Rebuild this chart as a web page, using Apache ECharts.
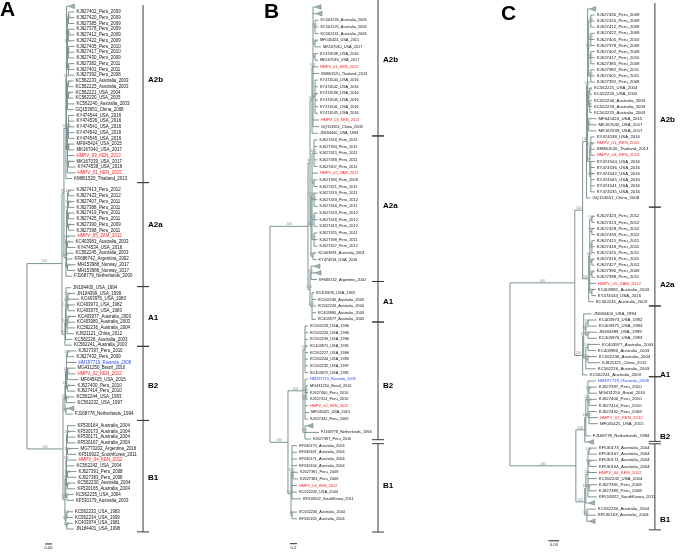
<!DOCTYPE html>
<html><head><meta charset="utf-8">
<script src="https://cdn.jsdelivr.net/npm/echarts@6/dist/echarts.min.js"></script>
<style>html,body{margin:0;padding:0;background:#fff}#c{width:685px;height:552px}</style>
</head><body><div id="c"></div>
<script>
// ---------------- DATA ----------------
// Leaf rows (top to bottom). '' = empty row, '#' = collapsed clade (triangle)
const rowsA = ['#',
 'KJ627402_Peru_2009','KJ627420_Peru_2009','KJ627385_Peru_2009','KJ627378_Peru_2009','KJ627412_Peru_2009','KJ627422_Peru_2009',
 'KJ627405_Peru_2010','KJ627417_Peru_2010','KJ627430_Peru_2009','KJ627382_Peru_2011','KJ627401_Peru_2011','KJ627392_Peru_2008',
 'KC562233_Australia_2003','KC562225_Australia_2003','KC562221_USA_2004','KC562220_USA_2005','KC562240_Australia_2003','GQ153651_China_2008',
 'KY474544_USA_2016','KY474536_USA_2016','KY474541_USA_2016','KY474542_USA_2016','KY474545_USA_2016','MF045424_USA_2015',
 'MK167040_USA_2017','HMPV_03_KEN_2013','MK167039_USA_2017','KY474538_USA_2016','HMPV_01_KEN_2015','KM861520_Thailand_2013',
 '',
 'KJ627413_Peru_2012','KJ627423_Peru_2012','KJ627407_Peru_2011','KJ627388_Peru_2011','KJ627419_Peru_2011','KJ627425_Peru_2011',
 'KJ627390_Peru_2009','KJ627398_Peru_2011','HMPV_05_ZAM_2012','KC403981_Australia_2003','KY474534_USA_2016','KC562245_Australia_2003',
 'KF686742_Argentina_2002','MH153988_Norway_2017','MH153986_Norway_2017','FJ168779_Netherlands_2000',
 '',
 'JN184400_USA_1994','JN184399_USA_1999','KC403976_USA_1983','KC403973_USA_1982','KC403975_USA_1983','KC403977_Australia_2003',
 'KC403980_Australia_2003','KC562236_Australia_2004','KJ821121_China_2012','KC562226_Australia_2003','KC562241_Australia_2003',
 'KJ627397_Peru_2010','KJ627432_Peru_2009','HM197719_Rwanda_2008','MG431250_Brazil_2010','HMPV_02_KEN_2012','MF045425_USA_2015',
 'KJ627400_Peru_2010','KJ627414_Peru_2010','KC562244_USA_1983','KC562232_USA_1997','#','FJ168778_Netherlands_1994',
 '',
 'KF530164_Australia_2004','KF530173_Australia_2004','KF530171_Australia_2004','KF530167_Australia_2004','MG773202_Argentina_2016',
 'KF516922_SouthKorea_2011','HMPV_04_KEN_2012','KC562242_USA_2004','KJ627391_Peru_2008','KJ627383_Peru_2008',
 'KC562230_Australia_2004','KF530165_Australia_2004','KC562235_USA_2004','KF530179_Australia_2003',
 '',
 'KC562233_USA_1983','KC562234_USA_1999','KC403974_USA_1981','JN184401_USA_1998'];

const rowsB = ['#','#',
 'KC562233_Australia_2003','KC562225_Australia_2003','KC562241_Australia_2003','MF045424_USA_2015','MK167040_USA_2017',
 'KY474538_USA_2016','MK167039_USA_2017','HMPV_01_KEN_2015','KM861520_Thailand_2013','KY474544_USA_2016','KY474542_USA_2016',
 'KY474536_USA_2016','KY474545_USA_2016','KY474541_USA_2016','KY474535_USA_2016','HMPV_03_KEN_2013','GQ153651_China_2008',
 'JN184400_USA_1994',
 'KJ627418_Peru_2011','KJ627394_Peru_2011','KJ627415_Peru_2011','KJ627388_Peru_2011','KJ627407_Peru_2011','HMPV_05_ZAM_2012',
 'KJ627390_Peru_2009','KJ627421_Peru_2011','KJ627419_Peru_2011','KJ627433_Peru_2012','KJ627416_Peru_2011','KJ627423_Peru_2012',
 'KJ627428_Peru_2012','KJ627413_Peru_2012','KJ627425_Peru_2011','KJ627398_Peru_2011','KJ627427_Peru_2012',
 'KC403981_Australia_2003','KY474534_USA_2016','#','#','KF686742_Argentina_2002','',
 'KC403976_USA_1983','KC562236_Australia_2003','KC562226_Australia_2004','KC403980_Australia_2003','KC403977_Australia_2003',
 'KC562228_USA_1996','KC562229_USA_1996','KC562239_USA_1996','KC403971_USA_1991','KC562227_USA_1996','KC562244_USA_1983',
 'KC562232_USA_1997','KC403972_USA_1981','HM197719_Rwanda_2008','MG431250_Brazil_2010','KJ627400_Peru_2010','KJ627414_Peru_2010',
 'HMPV_02_KEN_2012','MF045425_USA_2015','KJ627432_Peru_2009','#','FJ168778_Netherlands_1994','KJ627397_Peru_2010',
 'KF530173_Australia_2004','KF530167_Australia_2004','KF530171_Australia_2004','KF530164_Australia_2004','KJ627391_Peru_2008',
 'KJ627383_Peru_2008','HMPV_04_KEN_2012','KC562242_USA_2004','KF516922_SouthKorea_2011','',
 'KC562230_Australia_2004','KF530163_Australia_2004'];

const rowsC = ['#',
 'KJ627430_Peru_2009','KJ627420_Peru_2009','KJ627412_Peru_2009','KJ627422_Peru_2009','KJ627405_Peru_2010','KJ627378_Peru_2009',
 'KJ627402_Peru_2009','KJ627417_Peru_2010','KJ627385_Peru_2009','KJ627382_Peru_2011','KJ627401_Peru_2011','KJ627392_Peru_2008',
 'KC562221_USA_2004','KC562220_USA_2005','KC562240_Australia_2003','KC562233_Australia_2003','KC562225_Australia_2003',
 'MF045424_USA_2015','MK167040_USA_2017','MK167039_USA_2017','KY474538_USA_2016','HMPV_01_KEN_2015','KM861520_Thailand_2013',
 'HMPV_03_KEN_2013','KY474544_USA_2016','KY474536_USA_2016','KY474542_USA_2016','KY474545_USA_2016','KY474541_USA_2016',
 'KY474535_USA_2016','GQ153651_China_2008','','',
 'KJ627423_Peru_2012','KJ627413_Peru_2012','KJ627428_Peru_2012','KJ627433_Peru_2012','KJ627415_Peru_2011','KJ627418_Peru_2011',
 'KJ627425_Peru_2011','KJ627416_Peru_2011','KJ627427_Peru_2012','KJ627390_Peru_2009','KJ627398_Peru_2011','HMPV_05_ZAM_2012',
 'KC403981_Australia_2003','KY474534_USA_2016','KC562245_Australia_2003','',
 'JN184400_USA_1994','KC403973_USA_1982','KC403975_USA_1983','JN184399_USA_1999','KC403976_USA_1983','KC403977_Australia_2003',
 'KC403980_Australia_2003','KC562236_Australia_2004','KJ821121_China_2012','KC562226_Australia_2003','KC562241_Australia_2003',
 'HM197719_Rwanda_2008','KJ627397_Peru_2010','MG431250_Brazil_2010','KJ627400_Peru_2010','KJ627414_Peru_2010','KJ627432_Peru_2009',
 'HMPV_02_KEN_2012','MF045425_USA_2015','','FJ168778_Netherlands_1994','#',
 'KF530173_Australia_2004','KF530167_Australia_2004','KF530171_Australia_2004','KF530164_Australia_2004','HMPV_04_KEN_2012',
 'KC562242_USA_2004','KJ627391_Peru_2008','KJ627383_Peru_2008','KF516922_SouthKorea_2011','#',
 'KC562230_Australia_2004','KF530163_Australia_2004','#'];

// Tree topology + branch lengths (substitutions/site), Newick, leaves in row order
const treeA_A2b = '((#:0.014,((*:0.043,*:0.043,*:0.043)100:0.007,(*:0.043,*:0.043,*:0.043)100:0.007,(*:0.043,*:0.043,*:0.043)99:0.007,(*:0.043,*:0.043,*:0.043)100:0.007)100:0.007,((*:0.036,*:0.036)100:0.007,(*:0.036,*:0.036)100:0.007,*:0.05,*:0.043)96:0.007,((*:0.043,*:0.043,*:0.043,*:0.043,*:0.043)100:0.007,(*:0.043,*:0.043)99:0.007,*:0.05,(*:0.043,*:0.05)100:0.007,*:0.057)100:0.007)100:0.004,*:0.043)100:0.014';
const treeA_A2a = '((((*:0.043,*:0.043)100:0.007,(*:0.043,*:0.043)100:0.007,(*:0.043,*:0.043)97:0.007,(*:0.043,*:0.043)100:0.007)99:0.007,*:0.064,(*:0.043,*:0.057)100:0.007,*:0.05,*:0.043,(*:0.057,*:0.057)100:0.007)100:0.004,*:0.043)100:0.014';
const treeA_A1 = '(((*:0.036,((*:0.05,*:0.079)100:0.007,(*:0.05,*:0.05)98:0.007)100:0.007,((*:0.057,*:0.05)100:0.007,*:0.057,*:0.05)100:0.007)100:0.004,*:0.05)100:0.004,*:0.05)100:0.021';
const treeA_B2 = '((((*:0.064,*:0.05)100:0.007,*:0.071,(*:0.057,*:0.057,*:0.079)100:0.007,(*:0.057,*:0.057)100:0.007)100:0.007,(*:0.057,*:0.064)100:0.007)100:0.004,(#:0.014,*:0.05)100:0.007)100:0.014';
const treeA_B1 = '((((*:0.057,*:0.057,*:0.057,*:0.057)100:0.007,(*:0.079,*:0.064)100:0.007,*:0.071,*:0.057,(*:0.064,*:0.064)100:0.007,(*:0.057,*:0.057)100:0.007)100:0.004,(*:0.05,*:0.05)99:0.007)99:0.007,((*:0.043,*:0.043)100:0.007,(*:0.043,*:0.05)100:0.007)100:0.007)100:0.014';
const treeA = `(((${treeA_A2b},${treeA_A2a})96:0.014,${treeA_A1})100:0.25,(${treeA_B2},${treeA_B1})100:0.257)`;

const treeB_A2b = '((#:0.057,#:0.086,(*:0.1,*:0.1,*:0.1)100:0.057,(*:0.086,*:0.171)100:0.057,(*:0.086,*:0.086)99:0.057,*:0.143,*:0.171,(*:0.086,*:0.086,*:0.086,*:0.086,*:0.086,*:0.086)100:0.057,*:0.171,*:0.171)100:0.029,*:0.171)100:0.057';
const treeB_A2a = '(((*:0.1,*:0.1,*:0.1,*:0.1,*:0.1)100:0.057,*:0.171,(*:0.1,*:0.1)90:0.057,(*:0.1,*:0.1,*:0.1)100:0.057,(*:0.1,*:0.1,*:0.1)100:0.057,(*:0.1,*:0.1,*:0.1)100:0.057)100:0.029,(*:0.1,*:0.1)100:0.057)100:0.029';
const treeB_A1 = '((#:0.086,#:0.114,*:0.171)100:0.029,(*:0.057,*:0.114,*:0.114,*:0.114,*:0.114)100:0.057)100:0.057';
const treeB_B2 = '((*:0.086,*:0.086,*:0.086,*:0.086,*:0.086,*:0.086,*:0.086,*:0.086)100:0.057,(*:0.086,(*:0.057,*:0.057,*:0.057)100:0.029,*:0.086,*:0.114,*:0.086)100:0.057,(#:0.057,*:0.4,*:0.171)100:0.057)100:0.429';
const treeB_B1 = '((*:0.143,*:0.143,*:0.143,*:0.143,(*:0.143,*:0.143)99:0.029,*:0.143,*:0.143,*:0.257)100:0.029,(*:0.143,*:0.143)91:0.029)100:0.086';
const treeB = `(((${treeB_A2b},${treeB_A2a})97:0.057,${treeB_A1})100:1.086,(${treeB_B2},${treeB_B1})100:0.514)`;

const treeC_A2b = '((#:0.006,((*:0.011,*:0.011,*:0.011)100:0.006,(*:0.011,*:0.011,*:0.011)100:0.006,(*:0.011,*:0.011,*:0.011)98:0.006,(*:0.011,*:0.011,*:0.011)100:0.006)100:0.003,((*:0.006,*:0.006)100:0.003,(*:0.006,*:0.006,*:0.006)100:0.003)100:0.003,(*:0.022,*:0.022,*:0.022)100:0.003,((*:0.011,*:0.011,*:0.011,*:0.011)100:0.003,(*:0.011,*:0.011,*:0.011,*:0.011,*:0.011,*:0.011)100:0.003)100:0.006)100:0.003,*:0.011)100:0.011';
const treeC_A2a = '(((*:0.008,*:0.008)100:0.006,(*:0.008,*:0.008)100:0.006,(*:0.008,*:0.008,*:0.008)99:0.006,(*:0.008,*:0.008)100:0.006,(*:0.008,*:0.008)100:0.006,*:0.017,(*:0.011,*:0.011)100:0.006)100:0.003,*:0.014)100:0.017';
const treeC_A1 = '((*:0.022,((*:0.025,*:0.025)100:0.006,(*:0.025,*:0.025)100:0.006)100:0.006,((*:0.034,*:0.022)100:0.006,(*:0.025,*:0.034)100:0.006,*:0.028)100:0.006)100:0.003,*:0.014)100:0.022';
const treeC_B2 = '(((*:0.022,(*:0.022,*:0.022)100:0.003,(*:0.022,*:0.022)100:0.003,(*:0.022,*:0.025,*:0.025)100:0.003)100:0.006,*:0.014)100:0.003,#:0.008)100:0.025';
const treeC_B1 = '((((*:0.022,*:0.022)100:0.003,(*:0.022,*:0.022)100:0.003,*:0.025,*:0.025,(*:0.022,*:0.022)100:0.003,*:0.025)100:0.006,#:0.008)100:0.003,(*:0.025,*:0.025,#:0.006)100:0.006)100:0.025';
const treeC = `(((${treeC_A2b},${treeC_A2a})100:0.022,${treeC_A1})100:0.182,(${treeC_B2},${treeC_B1})100:0.185)`;

// Genotype brackets: [name, first row edge, last row edge, label row]
const cladesA = [['A2b',-0.2,30.7,12.8],['A2a',30.7,48.8,38],['A1',48.8,59.2,54.2],['B2',59.2,72.1,66],['B1',72.1,91.5,82]];
const cladesB = [['A2b',-1.05,19.4,8],['A2a',19.4,41.3,29.9],['A1',41.3,47.4,44.4],['B2',47.4,65.1,57],['B1',65.7,79,72]];
const cladesC = [['A2b',-0.97,32.5,18.2],['A2a',32.5,48.7,45.3],['A1',48.7,60.3,60],['B2',60.3,70.9,70.2],['B1',71.3,85.4,83.8]];

// Scale bars (substitutions/site)
const scaleBars = ['0.05','0.2','0.03'];
const panelLetters = ['A','B','C'];
const blueStrains = ['HM197719_Rwanda_2008'];

// ---------------- HELPERS ----------------
const FONT = '"Liberation Sans", Arial, Helvetica, sans-serif';
const LINE = '#6c8888';
function parseNewick(s){
  s = s.replace(/\s+/g,''); let i = 0;
  function node(){
    const n = {children:[], name:'', label:'', len:0};
    if (s[i] === '('){
      i++; n.children.push(node());
      while (s[i] === ','){ i++; n.children.push(node()); }
      i++;
      let lab=''; while(i<s.length && !':,();'.includes(s[i])) lab += s[i++];
      n.label = lab;
    } else {
      let nm=''; while(i<s.length && !':,();'.includes(s[i])) nm += s[i++];
      n.name = nm;
    }
    if (s[i] === ':'){ i++; let num=''; while(i<s.length && /[0-9.eE+-]/.test(s[i])) num += s[i++]; n.len = parseFloat(num); }
    return n;
  }
  return node();
}
function layoutTree(nw, rows){
  const root = parseNewick(nw);
  const leafRows = []; rows.forEach((r,i)=>{ if (r !== '') leafRows.push(i); });
  let k = 0; const segs=[], leaves=[], boots=[];
  (function walk(n, x, px){
    n.x = x;
    if (!n.children.length){
      const r = leafRows[k++]; n.y = r; leaves.push({x, y:r, label: rows[r]});
    } else {
      n.children.forEach(c => walk(c, x + c.len, x));
      const f = n.children[0], l = n.children[n.children.length-1];
      n.y = (f.y + l.y)/2;
      segs.push([x, f.y, x, l.y]);
      n.children.forEach(c => segs.push([x, c.y, c.x, c.y]));
    }
    if (n.label && px !== null) boots.push([(px + x)/2, n.y, n.label]);
  })(root, 0, null);
  if (k !== leafRows.length) console.error('leaf mismatch', k, leafRows.length);
  return {segs, leaves, boots};
}

// ---------------- PANELS (layout) ----------------
const panels = [
  {tree: treeA, rows: rowsA, clades: cladesA, grid:{left:27, top:6.245, width:140, height:546.7}, xMax:1, yMax:95,
   fs:4.45, bracketX:0.829, scale:{value:0.05, x:0.129, row:93.6}, letter:{left:0, top:0}},
  {tree: treeB, rows: rowsB, clades: cladesB, grid:{left:270, top:7.0, width:140, height:545.3}, xMax:4, yMax:82,
   fs:3.85, bracketX:3.086, scale:{value:0.2, x:0.571, row:80.75}, letter:{left:264, top:2}},
  {tree: treeC, rows: rowsC, clades: cladesC, grid:{left:510, top:8.9, width:142.4, height:542.9}, xMax:0.4, yMax:89,
   fs:4.3, bracketX:0.407, scale:{value:0.03, x:0.108, row:87.2}, letter:{left:501, top:4}}
];

const series = [];
panels.forEach((p, pi) => {
  const L = layoutTree(p.tree, p.rows);
  const common = {type:'custom', coordinateSystem:'cartesian2d', xAxisIndex:pi, yAxisIndex:pi, clip:false, silent:true, animation:false};
  // branches
  series.push(Object.assign({}, common, {
    data: L.segs,
    encode:{x:[0,2], y:[1,3]},
    renderItem(params, api){
      const a = api.coord([api.value(0), api.value(1)]), b = api.coord([api.value(2), api.value(3)]);
      return {type:'line', shape:{x1:a[0], y1:a[1], x2:b[0], y2:b[1]}, style:{stroke:LINE, lineWidth:0.9}};
    }
  }));
  // leaves: labels or collapsed triangles
  const lv = L.leaves;
  series.push(Object.assign({}, common, {
    data: lv.map(d => [d.x, d.y]),
    encode:{x:0, y:1},
    renderItem(params, api){
      const d = lv[params.dataIndex];
      const c = api.coord([api.value(0), api.value(1)]);
      if (d.label === '#'){
        return {type:'polygon', shape:{points:[[c[0], c[1]], [c[0]+6, c[1]-2.3], [c[0]+6, c[1]+2.3]]},
          style:{fill:'#9fb1b1', stroke:LINE, lineWidth:0.6}};
      }
      const col = d.label.startsWith('HMPV_') ? '#ff1a1a' : (blueStrains.includes(d.label) ? '#2a4dff' : '#111');
      return {type:'text', x:c[0]+2, y:c[1], style:{text:d.label, fill:col, fontSize:p.fs, fontFamily:FONT,
        align:'left', verticalAlign:'middle', textAlign:'left', textVerticalAlign:'middle'}};
    }
  }));
  // bootstrap values
  const bs = L.boots;
  series.push(Object.assign({}, common, {
    data: bs.map(d => [d[0], d[1]]),
    encode:{x:0, y:1},
    renderItem(params, api){
      const c = api.coord([api.value(0), api.value(1)]);
      return {type:'text', x:c[0], y:c[1]-0.6, style:{text:bs[params.dataIndex][2], fill:'#8a8a8a', fontSize:3.3, fontFamily:FONT,
        align:'center', verticalAlign:'bottom', textAlign:'center', textVerticalAlign:'bottom'}};
    }
  }));
  // genotype brackets
  const cl = p.clades;
  series.push(Object.assign({}, common, {
    data: cl.map(d => [p.bracketX, d[1], d[2], d[3]]),
    encode:{x:0, y:[1,2]},
    renderItem(params, api){
      const a = api.coord([api.value(0), api.value(1)]), b = api.coord([api.value(0), api.value(2)]);
      const m = api.coord([api.value(0), api.value(3)]);
      const st = {stroke:'#3c3c3c', lineWidth:1};
      const kids = [
        {type:'line', shape:{x1:a[0], y1:a[1], x2:b[0], y2:b[1]}, style:st},
        {type:'line', shape:{x1:b[0]-6, y1:b[1], x2:b[0]+6, y2:b[1]}, style:st},
        {type:'text', x:a[0]+5, y:m[1], style:{text:cl[params.dataIndex][0], fill:'#000', fontSize:8, fontWeight:'bold', fontFamily:FONT,
          align:'left', verticalAlign:'middle', textAlign:'left', textVerticalAlign:'middle'}}
      ];
      if (params.dataIndex > 0) kids.push({type:'line', shape:{x1:a[0]-6, y1:a[1], x2:a[0]+6, y2:a[1]}, style:st});
      return {type:'group', children:kids};
    }
  }));
  // scale bar
  series.push(Object.assign({}, common, {
    data: [[p.scale.x, p.scale.row, p.scale.x + p.scale.value]],
    encode:{x:[0,2], y:1},
    renderItem(params, api){
      const a = api.coord([api.value(0), api.value(1)]), b = api.coord([api.value(2), api.value(1)]);
      return {type:'group', children:[
        {type:'line', shape:{x1:a[0], y1:a[1], x2:b[0], y2:b[1]}, style:{stroke:'#222', lineWidth:1}},
        {type:'text', x:(a[0]+b[0])/2, y:a[1]+2, style:{text:scaleBars[pi], fill:'#222', fontSize:4.2, fontFamily:FONT,
          align:'center', verticalAlign:'top', textAlign:'center', textVerticalAlign:'top'}}
      ]};
    }
  }));
});

const chart = echarts.init(document.getElementById('c'), null, {renderer:'canvas'});
chart.setOption({
  animation:false,
  backgroundColor:'#fff',
  grid: panels.map(p => Object.assign({containLabel:false}, p.grid)),
  xAxis: panels.map((p,i) => ({type:'value', gridIndex:i, min:0, max:p.xMax, show:false})),
  yAxis: panels.map((p,i) => ({type:'value', gridIndex:i, min:0, max:p.yMax, inverse:true, show:false})),
  graphic: panels.map((p,i) => ({type:'text', left:p.letter.left, top:p.letter.top,
    style:{text:panelLetters[i], fill:'#000', fontSize:21, fontWeight:'bold', fontFamily:FONT}})),
  series
});
</script></body></html>
